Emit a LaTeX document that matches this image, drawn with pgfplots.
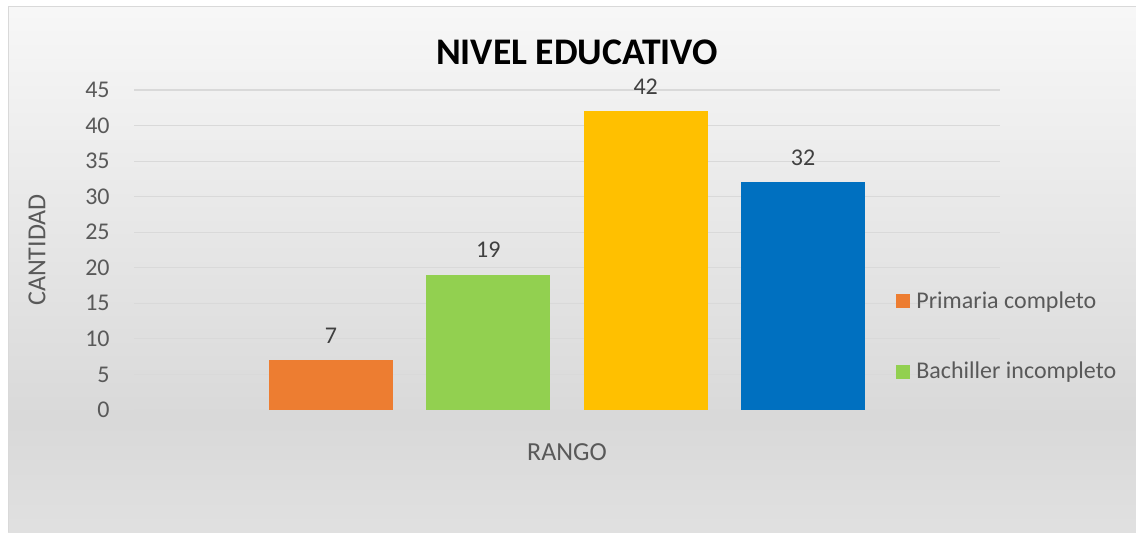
\documentclass[border=0pt]{standalone}
\usepackage{fontspec}
\setmainfont{Carlito}
\usepackage{pgfplots}
\pgfplotsset{compat=1.18}
\definecolor{txt}{HTML}{595959}
\definecolor{lbl}{HTML}{404040}
\definecolor{gridc}{HTML}{D9D9D9}
\definecolor{corange}{HTML}{ED7D31}
\definecolor{cgreen}{HTML}{92D050}
\definecolor{cyellow}{HTML}{FFC000}
\definecolor{cblue}{HTML}{0070C0}
\begin{document}
\begin{tikzpicture}[x=0.5pt,y=0.5pt]
\path[use as bounding box] (0,0) rectangle (1136,532);
\fill[white] (0,0) rectangle (1136,532);
\shade[top color=white!97!black, bottom color=white!85!black] (8,112) rectangle (1136,526);
\shade[top color=white!85!black, bottom color=white!88!black] (8,0) rectangle (1136,112.5);
\draw[gridc, line width=0.5pt] (8.5,0) -- (8.5,525.5) -- (1136,525.5);
\begin{axis}[
  at={(67pt,61pt)}, anchor=south west,
  scale only axis, width=433pt, height=160pt,
  xmin=-0.252, xmax=5.252, ymin=0, ymax=45,
  ytick={0,5,...,45}, xtick=\empty,
  ymajorgrids, grid style={gridc, line width=0.6pt},
  axis line style={draw=none},
  major tick length=0pt,
  /pgf/number format/assume math mode=true,
  tick label style={font=\fontsize{12}{14}\selectfont, text=txt},
  yticklabel style={inner sep=0pt, anchor=east, xshift=-12pt},
  clip=false,
  legend style={at={(0.873,0.39)}, anchor=north west, draw=none, fill=none,
    font=\fontsize{12}{14}\selectfont, text=txt, row sep=23.5pt,
    nodes={inner sep=1pt, anchor=west}},
  legend cell align=left,
  legend image code/.code={\fill[#1] (0pt,-3.5pt) rectangle (7pt,3.5pt);},
  nodes near coords,
  every node near coord/.append style={font=\fontsize{12}{14}\selectfont, text=lbl, anchor=south, yshift=5pt},
]
\addplot[ybar, bar shift=0pt, bar width=0.788, fill=corange, draw=none] coordinates {(1,7)};
\addlegendentry{\hspace{2pt}Primaria completo}
\addplot[ybar, bar shift=0pt, bar width=0.788, fill=cgreen, draw=none] coordinates {(2,19)};
\addlegendentry{\hspace{2pt}Bachiller incompleto}
\addplot[ybar, bar shift=0pt, bar width=0.788, fill=cyellow, draw=none, forget plot] coordinates {(3,42)};
\addplot[ybar, bar shift=0pt, bar width=0.788, fill=cblue, draw=none, forget plot] coordinates {(4,32)};
\end{axis}
\node[font=\fontsize{18.8}{22}\selectfont\bfseries] at (577,480) {NIVEL EDUCATIVO};
\node[font=\fontsize{13}{15}\selectfont, text=txt, rotate=90] at (37,282) {CANTIDAD};
\node[font=\fontsize{13}{15}\selectfont, text=txt] at (567,80) {RANGO};
\end{tikzpicture}
\end{document}
